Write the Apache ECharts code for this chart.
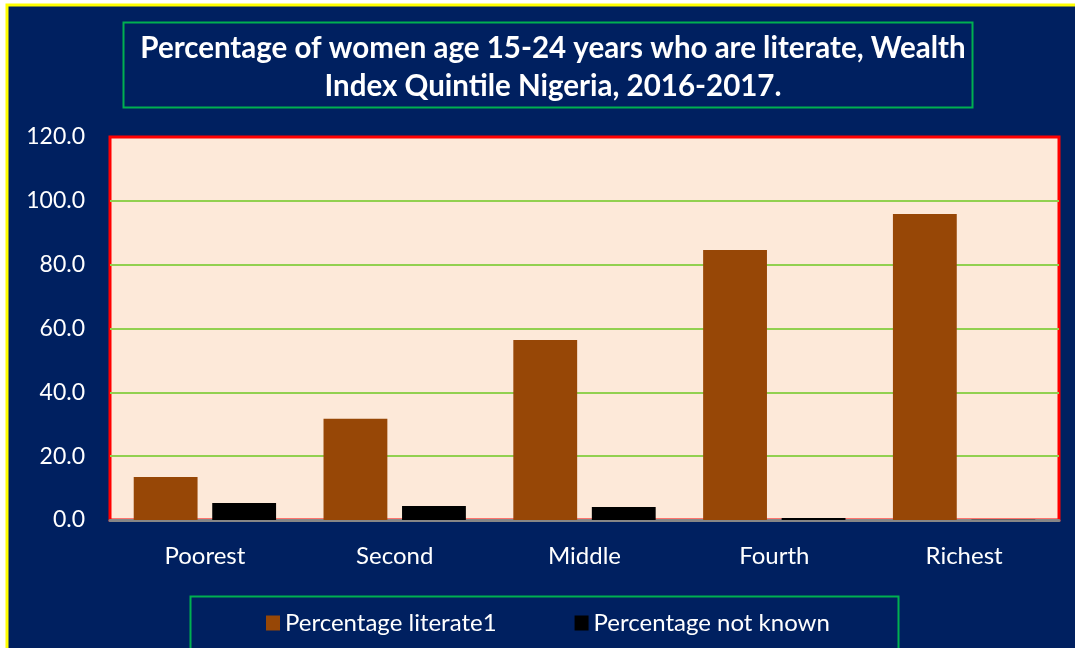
<!DOCTYPE html>
<html><head><meta charset="utf-8">
<script src="https://cdn.jsdelivr.net/npm/echarts@6/dist/echarts.min.js"></script>
<style>html,body{margin:0;padding:0;background:#fff;}#c{width:1075px;height:648px;}</style>
</head><body><div id="c"></div>
<script>
const categories = ['Poorest', 'Second', 'Middle', 'Fourth', 'Richest'];
const literate = [13.5, 31.7, 56.4, 84.6, 95.9];
const notKnown = [5.3, 4.4, 4.1, 0.6, 0.1];
const seriesNames = ['Percentage literate1', 'Percentage not known'];
const titleLines = ['Percentage of women age 15-24 years who are literate, Wealth', 'Index Quintile Nigeria, 2016-2017.'];

const FONT = 'Lato';
const chart = echarts.init(document.getElementById('c'), null, {renderer: 'canvas'});
chart.setOption({
  backgroundColor: '#ffffff',
  animation: false,
  graphic: [
    {type: 'rect', z: -10, shape: {x: 7, y: 5, width: 1200, height: 800}, style: {fill: '#002060', stroke: '#ffff00', lineWidth: 3}},
    {type: 'rect', z: -5, shape: {x: 123.5, y: 22.5, width: 849, height: 85}, style: {fill: 'none', stroke: '#00b050', lineWidth: 2}},
    {type: 'rect', z: -5, shape: {x: 190.5, y: 596.5, width: 708, height: 80}, style: {fill: 'none', stroke: '#00b050', lineWidth: 2}}
  ],
  title: {
    text: titleLines.join('\n'),
    left: 548, top: 24, textAlign: 'center',
    textStyle: {color: '#ffffff', fontFamily: FONT, fontWeight: 'bold', fontSize: 29.5, lineHeight: 38}
  },
  legend: {
    data: seriesNames,
    left: 261, top: 606,
    itemWidth: 14, itemHeight: 15, itemGap: 78,
    textStyle: {color: '#ffffff', fontFamily: FONT, fontSize: 24},
    icon: 'rect'
  },
  grid: {
    left: 110, right: 16, top: 137, bottom: 128,
    show: true, backgroundColor: '#fde9d9', borderColor: '#ff0000', borderWidth: 3
  },
  xAxis: {
    type: 'category', data: categories,
    axisLine: {lineStyle: {color: '#868686', width: 3}},
    axisTick: {show: false},
    axisLabel: {color: '#ffffff', fontFamily: FONT, fontSize: 24, margin: 24}
  },
  yAxis: {
    type: 'value', min: 0, max: 120, interval: 20,
    axisLine: {show: false}, axisTick: {show: false},
    axisLabel: {color: '#ffffff', fontFamily: FONT, fontSize: 23, margin: 25, formatter: v => v.toFixed(1)},
    splitLine: {lineStyle: {color: ['#92d050', '#92d050', '#92d050', '#92d050', '#92d050', '#92d050', '#ff0000'], width: 2}}
  },
  series: [
    {name: seriesNames[0], type: 'bar', data: literate, barCategoryGap: '25%', barGap: '23%', itemStyle: {color: '#974706'}},
    {name: seriesNames[1], type: 'bar', data: notKnown, itemStyle: {color: '#000000'}}
  ]
});
</script></body></html>
